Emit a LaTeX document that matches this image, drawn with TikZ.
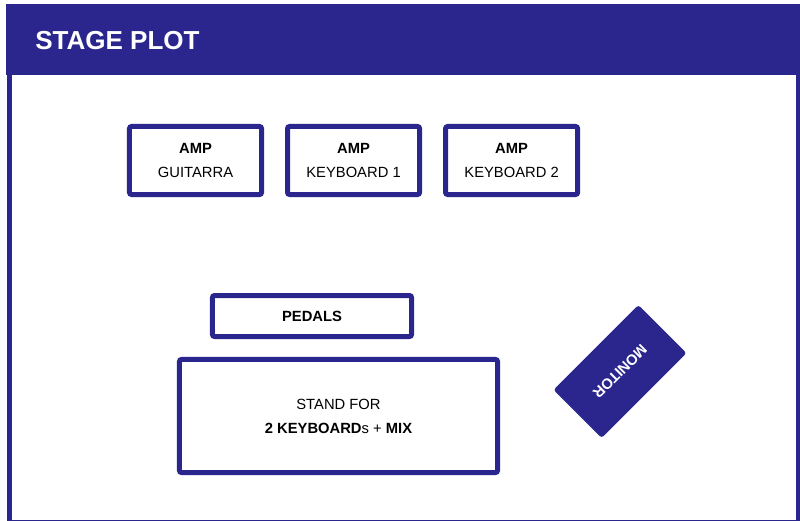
\documentclass[tikz,border=0pt]{standalone}
\usepackage{fontspec}
\setmainfont{Liberation Sans}
\usetikzlibrary{positioning}
\usepackage{xcolor}
\definecolor{stageblue}{RGB}{42,38,141}

\begin{document}
\begin{tikzpicture}[x=0.025cm, y=-0.025cm,
    gear/.style={rectangle, draw=stageblue, line width=0.125cm, rounded corners=1.5pt, fill=white, align=center, inner sep=0pt, font=\fontsize{10.5}{17}\selectfont},
    amp/.style={gear, minimum width=3.3cm, minimum height=1.7cm},
    monitor/.style={rectangle, fill=stageblue, text=white, rounded corners=2pt, minimum width=3cm, minimum height=1.7cm, font=\fontsize{10.5}{12}\selectfont\bfseries}]

    \useasboundingbox (0,0) rectangle (800,520);
    % frame and header
    \draw[stageblue, line width=0.125cm] (9.5,6.5) rectangle (798,522);
    \fill[stageblue] (6,4) rectangle (800,75);
    \node[anchor=west, text=white, inner sep=0pt, font=\fontsize{18.5}{20}\selectfont\bfseries] (title) at (35,41) {STAGE PLOT};

    \node [amp] (ampgtr) at (195.5,160.5) {\textbf{AMP}\\GUITARRA};
    \node [amp, right=0.525cm of ampgtr] (ampkey1) {\textbf{AMP}\\KEYBOARD 1};
    \node [amp, right=0.525cm of ampkey1] (ampkey2) {\textbf{AMP}\\KEYBOARD 2};

    \node [gear, minimum width=4.975cm, minimum height=1.025cm] (pedals) at (312,316) {\textbf{PEDALS}};
    \node [gear, minimum width=7.95cm, minimum height=2.825cm] (stand) at (338.5,416) {STAND FOR\\\textbf{2 KEYBOARD}s + \textbf{MIX}};

    \node [monitor, rotate=225] (monitor) at (620,371.5) {MONITOR};
\end{tikzpicture}
\end{document}
